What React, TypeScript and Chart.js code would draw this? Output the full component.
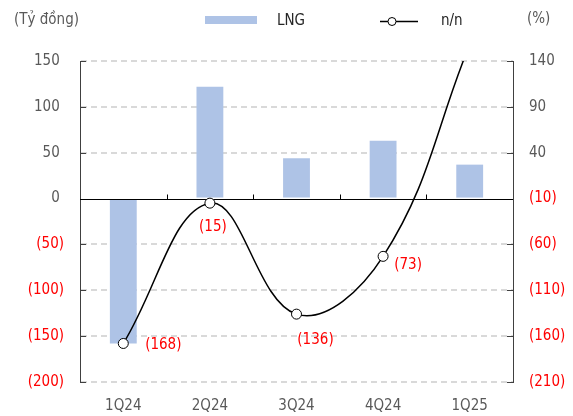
import React, { useEffect, useRef } from "react";
import { Chart, registerables } from "chart.js";

Chart.register(...registerables);

// ---- data ----
const categories = ["1Q24", "2Q24", "3Q24", "4Q24", "1Q25"];
const lngValues = [-158, 122, 44, 63, 37]; // Tỷ đồng (left axis)
const yoyValues = [-168, -15, -136, -73, 158]; // % n/n (right axis)
const leftTicks = [-200, -150, -100, -50, 0, 50, 100, 150];
const rightTicks = [-210, -160, -110, -60, -10, 40, 90, 140];
const seriesNames = ["LNG", "n/n"];
const axisTitles = ["(Tỷ đồng)", "(%)"];

// ---- styles ----
const FONT = "'DejaVu Sans Condensed', 'DejaVu Sans', sans-serif";
const GRAY = "#595959";
const RED = "#ff0000";
const AXIS = "#404040";
const BAR = "#aec3e6";
const GRID = "#d9d9d9";
const LEGEND_TEXT = "#262626";

const fmt = (v: number) => (v < 0 ? `(${Math.abs(Math.round(v))})` : `${Math.round(v)}`);

// label offsets (text centre relative to point), styling only
const labelOffsets = [
  { dx: 40, dy: 2 },
  { dx: 3, dy: 24 },
  { dx: 19, dy: 26 },
  { dx: 25, dy: 9 },
  { dx: 25, dy: 9 },
];

const decorPlugin = {
  id: "decor",
  afterDatasetDraw(chart: any, args: any) {
    if (args.meta.type !== "bar") return;
    const { ctx, chartArea: a, scales } = chart;
    const y0 = Math.round(scales.y.getPixelForValue(0)) + 0.5;
    ctx.save();
    ctx.lineWidth = 1;
    ctx.strokeStyle = "#000";
    ctx.beginPath();
    ctx.moveTo(a.left, y0);
    ctx.lineTo(a.right, y0);
    const xs = scales.x;
    for (let i = 0; i < categories.length - 1; i++) {
      const bx = Math.round((xs.getPixelForTick(i) + xs.getPixelForTick(i + 1)) / 2) + 0.5;
      ctx.moveTo(bx, y0);
      ctx.lineTo(bx, y0 - 5);
    }
    ctx.stroke();
    ctx.strokeStyle = AXIS;
    ctx.beginPath();
    leftTicks.forEach((v) => {
      if (v === 0) return;
      const y = Math.round(scales.y.getPixelForValue(v)) + 0.5;
      ctx.moveTo(a.left, y);
      ctx.lineTo(a.left + 6, y);
    });
    rightTicks.forEach((v) => {
      if (v === -10) return;
      const y = Math.round(scales.y1.getPixelForValue(v)) + 0.5;
      ctx.moveTo(a.right - 6, y);
      ctx.lineTo(a.right, y);
    });
    ctx.stroke();
    ctx.restore();
  },
  afterDatasetsDraw(chart: any) {
    const { ctx, chartArea: a } = chart;
    const meta = chart.getDatasetMeta(0);
    ctx.save();
    ctx.font = `15px ${FONT}`;
    ctx.fillStyle = RED;
    ctx.textAlign = "center";
    ctx.textBaseline = "middle";
    meta.data.forEach((pt: any, i: number) => {
      if (pt.y < a.top || pt.y > a.bottom) return;
      const v = yoyValues[i];
      const o = labelOffsets[i];
      ctx.fillStyle = v < 0 ? RED : GRAY;
      ctx.fillText(fmt(v), pt.x + o.dx, pt.y + o.dy);
    });
    ctx.restore();
  },
  afterDraw(chart: any) {
    const { ctx } = chart;
    ctx.save();
    ctx.font = `15px ${FONT}`;
    ctx.textBaseline = "middle";
    // axis titles
    ctx.fillStyle = GRAY;
    ctx.textAlign = "left";
    ctx.fillText(axisTitles[0], 14, 20);
    ctx.fillText(axisTitles[1], 527, 19);
    // legend: bar
    ctx.fillStyle = BAR;
    ctx.fillRect(205, 16, 52, 8);
    ctx.fillStyle = LEGEND_TEXT;
    ctx.fillText(seriesNames[0], 277, 21);
    // legend: line
    ctx.strokeStyle = "#000";
    ctx.lineWidth = 1.3;
    ctx.beginPath();
    ctx.moveTo(380, 21.5);
    ctx.lineTo(418, 21.5);
    ctx.stroke();
    ctx.beginPath();
    ctx.arc(392, 21.5, 4, 0, Math.PI * 2);
    ctx.fillStyle = "#fff";
    ctx.fill();
    ctx.lineWidth = 1;
    ctx.stroke();
    ctx.fillStyle = LEGEND_TEXT;
    ctx.fillText(seriesNames[1], 441, 21);
    ctx.restore();
  },
};

export default function App() {
  const canvasRef = useRef<HTMLCanvasElement | null>(null);

  useEffect(() => {
    document.body.style.margin = "0";
    const canvas = canvasRef.current;
    if (!canvas) return;
    const tickColor = (c: any) => (c.tick && c.tick.value < 0 ? RED : GRAY);
    const chart = new Chart(canvas, {
      type: "bar",
      data: {
        labels: categories,
        datasets: [
          {
            type: "line",
            label: seriesNames[1],
            data: yoyValues,
            yAxisID: "y1",
            borderColor: "#000",
            borderWidth: 1.5,
            tension: 0.4,
            pointRadius: 5,
            pointBorderWidth: 1,
            pointBackgroundColor: "#fff",
            pointBorderColor: "#000",
            order: 0,
          } as any,
          {
            type: "bar",
            label: seriesNames[0],
            data: lngValues,
            yAxisID: "y",
            backgroundColor: BAR,
            barPercentage: 0.31,
            categoryPercentage: 1,
            order: 1,
          },
        ],
      },
      options: {
        responsive: false,
        animation: false,
        layout: { padding: { top: 61, left: 0, right: 0, bottom: 0 } },
        plugins: { legend: { display: false }, tooltip: { enabled: false } },
        scales: {
          x: {
            grid: { display: false },
            border: { display: false },
            ticks: { color: GRAY, font: { family: FONT, size: 15 }, padding: 7 },
            afterFit: (s: any) => {
              s.height = 34;
            },
          },
          y: {
            position: "left",
            min: leftTicks[0],
            max: leftTicks[leftTicks.length - 1],
            afterBuildTicks: (s: any) => {
              s.ticks = leftTicks.map((v) => ({ value: v }));
            },
            grid: {
              drawTicks: false,
              lineWidth: 2,
              color: (c: any) => (c.tick && c.tick.value === 0 ? "rgba(0,0,0,0)" : GRID),
            },
            border: { display: true, color: AXIS, width: 1, dash: [6, 4] },
            ticks: {
              color: tickColor,
              font: { family: FONT, size: 15 },
              padding: 16,
              callback: (v: any) => (Number(v) < 0 ? fmt(Number(v)) : `${v} `),
            },
            afterFit: (s: any) => {
              s.width = 80;
            },
          },
          y1: {
            position: "right",
            min: rightTicks[0],
            max: rightTicks[rightTicks.length - 1],
            afterBuildTicks: (s: any) => {
              s.ticks = rightTicks.map((v) => ({ value: v }));
            },
            grid: { display: false, drawOnChartArea: false, drawTicks: false },
            border: { display: true, color: AXIS, width: 1 },
            ticks: {
              color: tickColor,
              font: { family: FONT, size: 15 },
              padding: 16,
              callback: (v: any) => fmt(Number(v)),
            },
            afterFit: (s: any) => {
              s.width = 60;
            },
          },
        },
      } as any,
      plugins: [decorPlugin as any],
    });
    return () => chart.destroy();
  }, []);

  return (
    <div style={{ width: 573, height: 416, background: "#fff" }}>
      <canvas ref={canvasRef} width={573} height={416} style={{ display: "block" }} />
    </div>
  );
}
